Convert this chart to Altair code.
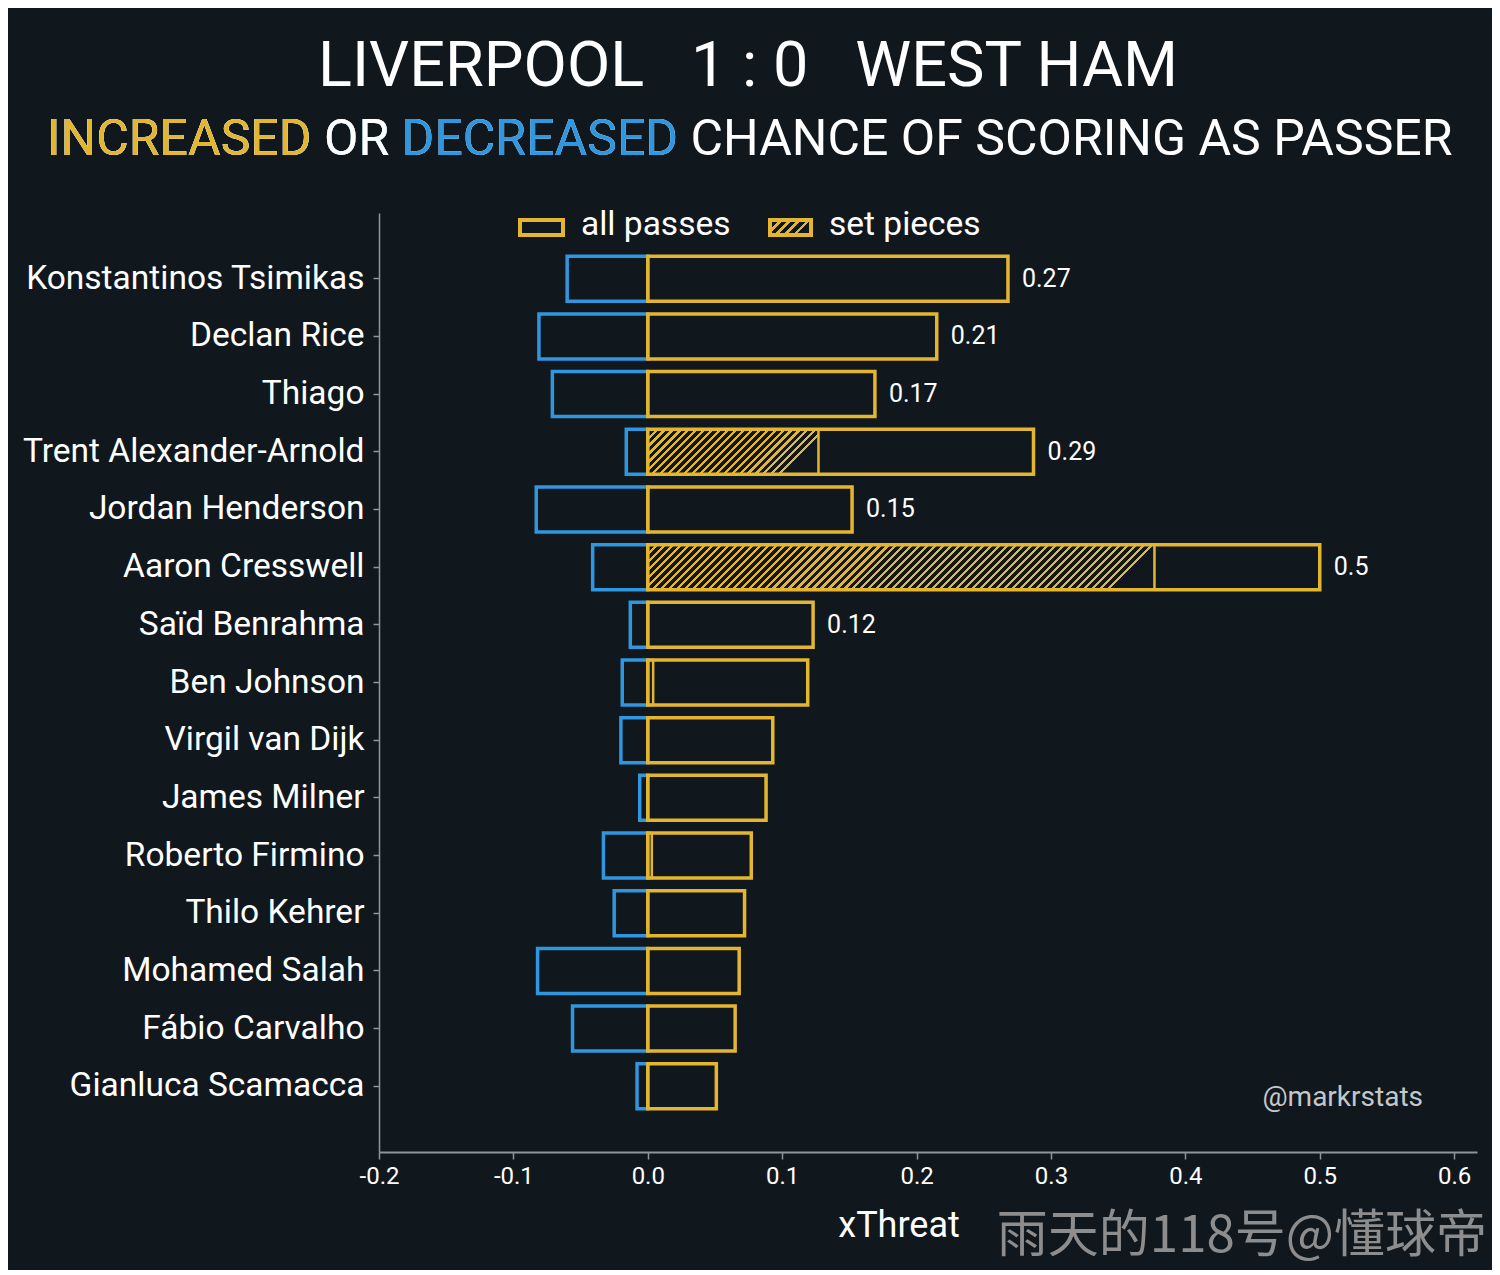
import altair as alt
import pandas as pd

# ---------------- data ----------------
players = [
    "Konstantinos Tsimikas", "Declan Rice", "Thiago", "Trent Alexander-Arnold",
    "Jordan Henderson", "Aaron Cresswell", "Saïd Benrahma", "Ben Johnson",
    "Virgil van Dijk", "James Milner", "Roberto Firmino", "Thilo Kehrer",
    "Mohamed Salah", "Fábio Carvalho", "Gianluca Scamacca",
]
decreased = [-0.060, -0.081, -0.071, -0.016, -0.083, -0.041, -0.013, -0.019,
             -0.020, -0.006, -0.033, -0.025, -0.082, -0.056, -0.008]
increased = [0.268, 0.215, 0.169, 0.287, 0.152, 0.500, 0.123, 0.119,
             0.093, 0.088, 0.077, 0.072, 0.068, 0.065, 0.051]
set_pieces = [0.0, 0.0, 0.0, 0.127, 0.0, 0.377, 0.0, 0.004,
              0.0, 0.0, 0.003, 0.0, 0.0, 0.0, 0.0]
value_labels = ["0.27", "0.21", "0.17", "0.29", "0.15", "0.5", "0.12",
                "", "", "", "", "", "", "", ""]
x_ticks = [-0.2, -0.1, 0.0, 0.1, 0.2, 0.3, 0.4, 0.5, 0.6]

title_text = "LIVERPOOL\u00a0\u00a0\u00a01\u00a0:\u00a00\u00a0\u00a0\u00a0WEST HAM"
subtitle_parts = ["INCREASED", " OR ", "DECREASED", " CHANCE OF SCORING AS PASSER"]
legend_labels = ["all passes", "set pieces"]
x_title = "xThreat"
credit = "@markrstats"
watermark = "雨天的118号@懂球帝"

# ---------------- style ----------------
BG = "#10171d"
GOLD = "#e4b630"
BLUE = "#2f96e0"
AXIS = "#8c979c"
FONT = "Roboto"
W, H = 1098, 939
X_MIN, X_MAX = -0.2, 0.617
P_IN, P_OUT = 0.22, 0.75
n = len(players)
step = H / (n - P_IN + 2 * P_OUT)
bandw = step * (1 - P_IN)
px_per_unit = W / (X_MAX - X_MIN)


def hatch(w, h, period=8.0, frac=0.4):
    r = h / w
    k_n = max(1, round(w * (1 + r * r) / period))
    stops = []
    for k in range(k_n):
        a, b, c = k / k_n, (k + frac) / k_n, (k + 1) / k_n
        stops += [
            {"offset": a, "color": GOLD}, {"offset": b, "color": GOLD},
            {"offset": b, "color": BG}, {"offset": c, "color": BG},
        ]
    return {"gradient": "linear", "x1": 0, "y1": 0, "x2": 1, "y2": r, "stops": stops}


df = pd.DataFrame({
    "player": players, "neg": decreased, "pos": increased,
    "sp": set_pieces, "label": value_labels, "zero": [0.0] * n,
})

xs = alt.Scale(domain=[X_MIN, X_MAX], nice=False, zero=False)
ys = alt.Scale(domain=players, paddingInner=P_IN, paddingOuter=P_OUT)

X = alt.X("pos:Q", scale=xs, axis=alt.Axis(
    values=x_ticks, title=None, grid=False, labelFlush=False,
    labelExpr="replace(format(datum.value, '.1f'), '\u2212', '-')",
    labelFontSize=24, labelColor="white", labelFont=FONT, labelPadding=5,
    tickSize=7, tickWidth=1.5, tickColor=AXIS, domainColor=AXIS, domainWidth=2,
))
Y = alt.Y("player:N", sort=players, scale=ys, axis=alt.Axis(
    title=None, grid=False, labelFontSize=33.5, labelColor="white", labelFont=FONT,
    labelPadding=9, labelLimit=0, tickSize=6, tickWidth=1.5, tickColor=AXIS,
    domainColor=AXIS, domainWidth=1.5,
))

base = alt.Chart(df)

neg_bars = base.mark_bar(fill="transparent", stroke=BLUE, strokeWidth=3.5).encode(
    y=Y, x=alt.X("neg:Q", scale=xs), x2="zero:Q")

layers = [neg_bars]
for name, v in zip(players, set_pieces):
    if v <= 0:
        continue
    wpx = v * px_per_unit
    fill = hatch(wpx, bandw) if wpx > 12 else "transparent"
    layers.append(
        base.transform_filter(alt.datum.player == name)
        .mark_bar(fill=fill, stroke=GOLD, strokeWidth=2.5)
        .encode(y=Y, x=alt.X("sp:Q", scale=xs), x2="zero:Q")
    )

pos_bars = base.mark_bar(fill="transparent", stroke=GOLD, strokeWidth=3.5).encode(
    y=Y, x=X, x2="zero:Q")
layers.append(pos_bars)

labels = base.transform_filter(alt.datum.label != "").mark_text(
    align="left", baseline="middle", dx=14, fontSize=25, font=FONT, color="white"
).encode(y=Y, x=alt.X("pos:Q", scale=xs), text="label:N")
layers.append(labels)

one = pd.DataFrame({"k": [0]})


def text_layer(txt, x, y, size, color, align="left", font=FONT, baseline="alphabetic"):
    return alt.Chart(pd.DataFrame({"t": [txt]})).mark_text(
        align=align, baseline=baseline, fontSize=size, font=font, color=color
    ).encode(text="t:N", x=alt.value(x), y=alt.value(y))


# title
layers.append(text_layer(title_text, 369, -127, 63, "white", align="center"))
# subtitle (overlaid prefixes give the multi-coloured words)
sub_full = "".join(subtitle_parts)
SUB_X, SUB_Y, SUB_S = -332, -58, 50
layers.append(text_layer(sub_full, SUB_X, SUB_Y, SUB_S, "white"))
layers.append(text_layer("".join(subtitle_parts[:3]), SUB_X, SUB_Y, SUB_S, BLUE))
layers.append(text_layer("".join(subtitle_parts[:2]).rstrip(), SUB_X, SUB_Y, SUB_S, "white"))
layers.append(text_layer(subtitle_parts[0], SUB_X, SUB_Y, SUB_S, GOLD))

# legend
layers.append(alt.Chart(one).mark_rect(fill="transparent", stroke=GOLD, strokeWidth=4).encode(
    x=alt.value(141), x2=alt.value(184), y=alt.value(7), y2=alt.value(22)))
layers.append(alt.Chart(one).mark_rect(fill=hatch(41, 15, period=9), stroke=GOLD, strokeWidth=4).encode(
    x=alt.value(391), x2=alt.value(432), y=alt.value(7), y2=alt.value(22)))
layers.append(text_layer(legend_labels[0], 202, 22, 33.5, "white"))
layers.append(text_layer(legend_labels[1], 450, 22, 33.5, "white"))

# axis title, credit, watermark
layers.append(text_layer(x_title, 520, 1024, 36, "white", align="center"))
layers.append(text_layer(credit, 1044, 893, 28, "#c4c7c9", align="right"))
layers.append(text_layer(watermark, 1108, 1039, 51, "#8d8d8d", align="right",
                         font="Noto Sans CJK SC"))

chart = alt.layer(*layers).properties(
    width=W, height=H,
    autosize=alt.AutoSizeParams(type="none"),
    padding={"left": 371, "top": 205, "right": 15, "bottom": 118},
    background=BG,
).configure_view(strokeWidth=0)

chart.save("out.html", embed_options={"renderer": "svg", "actions": False})
